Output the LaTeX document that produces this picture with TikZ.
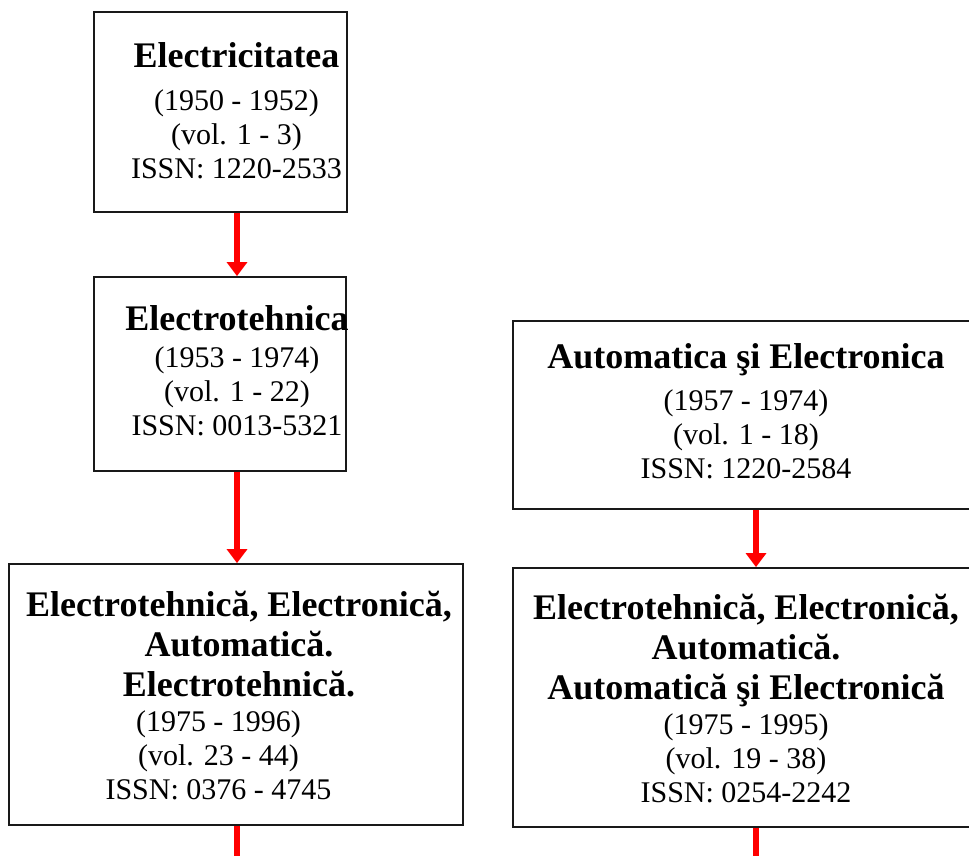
\documentclass[tikz,border=0pt]{standalone}
\usepackage{fontspec}
\setmainfont{Liberation Serif}
\usetikzlibrary{arrows.meta}
\tikzset{
  boxnode/.style={draw=black!90, line width=1.8pt, inner sep=0pt, fill=none},
  txt/.style={align=center, inner sep=0pt, anchor=north, font=\fontsize{30}{34}\selectfont},
  arr/.style={draw=red, line width=6pt, -{Triangle[width=20pt,length=14pt]}},
  tail/.style={draw=red, line width=6pt}
}
\newcommand\ttl[1]{{\bfseries\fontsize{36}{34}\selectfont #1}}
\begin{document}
\begin{tikzpicture}[x=1pt,y=-1pt]
\useasboundingbox (0,0) rectangle (969,855);
\clip (0,0) rectangle (969,855);
% guide coordinates for connector columns
\coordinate (lx) at (237,0);
\coordinate (rx) at (756,0);
\coordinate (e1) at (237,870);
\coordinate (e2) at (756,870);
% boxes
\node[boxnode, minimum width=253pt, minimum height=200pt] (b1) at (220.5,112) {};
\node[boxnode, minimum width=252pt, minimum height=194pt] (b2) at (220,374) {};
\node[boxnode, minimum width=454pt, minimum height=261pt] (b3) at (236,694.5) {};
\node[boxnode, minimum width=477pt, minimum height=188pt] (bA) at (751.5,415) {};
\node[boxnode, minimum width=477pt, minimum height=259pt] (bB) at (751.5,697.5) {};
% texts
\node[txt] (t1) at (236.5,42.6) {\ttl{Electricitatea}\\[9pt](1950 - 1952)\\(vol. 1 - 3)\\ISSN: 1220-2533};
\node[txt] (t2) at (237,305.6) {\ttl{Electrotehnica}\\[3pt](1953 - 1974)\\(vol. 1 - 22)\\ISSN: 0013-5321};
\node[txt] (tA) at (746,343.6) {\ttl{Automatica şi Electronica}\\[8pt](1957 - 1974)\\(vol. 1 - 18)\\ISSN: 1220-2584};
\node[txt] (t3) at (239,590.6) {\ttl{Electrotehnică, Electronică,}\\[6pt]\ttl{Automatică.}\\[6pt]\ttl{Electrotehnică.}\\[1pt](1975 - 1996)\kern41pt\\(vol. 23 - 44)\kern41pt\\ISSN: 0376 - 4745\kern41pt};
\node[txt] (tB) at (746,593.6) {\ttl{Electrotehnică, Electronică,}\\[6pt]\ttl{Automatică.}\\[6pt]\ttl{Automatică şi Electronică}\\[1pt](1975 - 1995)\\(vol. 19 - 38)\\ISSN: 0254-2242};
% connectors
\draw[arr] (b1.south -| lx) -- (b2.north -| lx);
\draw[arr] (b2.south -| lx) -- (b3.north -| lx);
\draw[arr] (bA.south -| rx) -- (bB.north -| rx);
\draw[tail] (b3.south -| lx) -- (e1);
\draw[tail] (bB.south -| rx) -- (e2);
\end{tikzpicture}
\end{document}
